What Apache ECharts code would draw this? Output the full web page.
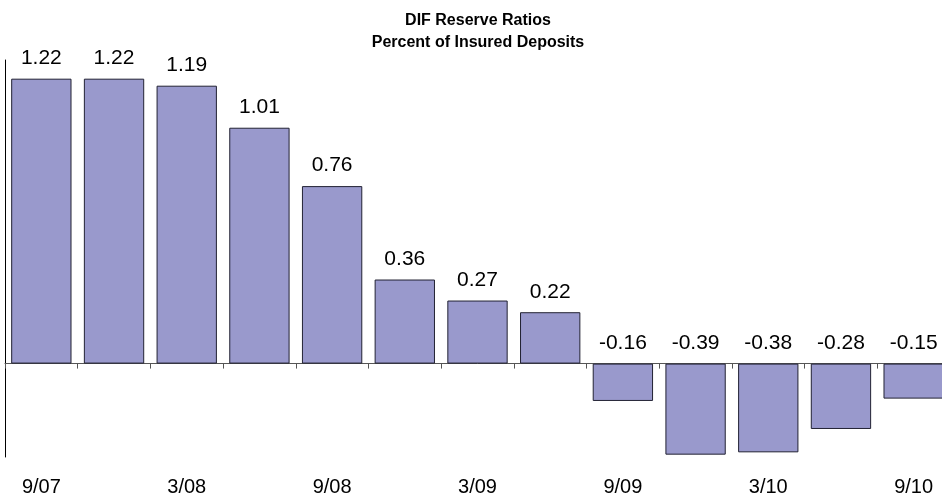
<!DOCTYPE html>
<html>
<head>
<meta charset="utf-8">
<script src="https://cdn.jsdelivr.net/npm/echarts@6/dist/echarts.min.js"></script>
<style>
html,body{margin:0;padding:0;background:#fff;overflow:hidden;}
#chart{width:950px;height:500px;}
</style>
</head>
<body>
<div id="chart"></div>
<script>
var categories = ['9/07','12/07','3/08','6/08','9/08','12/08','3/09','6/09','9/09','12/09','3/10','6/10','9/10'];
var reserveRatios = [1.22, 1.22, 1.19, 1.01, 0.76, 0.36, 0.27, 0.22, -0.16, -0.39, -0.38, -0.28, -0.15];
var titleLines = ['DIF Reserve Ratios', 'Percent of Insured Deposits'];

var chart = echarts.init(document.getElementById('chart'), null, {renderer: 'canvas'});
var font = 'Liberation Sans, Arial, sans-serif';
chart.setOption({
  animation: false,
  title: {
    text: titleLines.join('\n'),
    left: 473,
    textAlign: 'center',
    top: 5,
    textStyle: {fontFamily: font, fontSize: 16, fontWeight: 'bold', color: '#000', lineHeight: 22}
  },
  grid: {left: 5, top: 60, right: 0, height: 397, containLabel: false},
  xAxis: [
    {
      type: 'category', data: categories, position: 'bottom',
      axisLine: {show: false, onZero: false}, axisTick: {show: false},
      axisLabel: {interval: 1, margin: 20, fontFamily: font, fontSize: 20, color: '#000'}
    },
    {
      type: 'category', data: categories, position: 'bottom',
      axisLine: {show: true, onZero: true, lineStyle: {color: '#555', width: 1}},
      axisTick: {show: true, interval: 0, length: 5, inside: false, lineStyle: {color: '#555'}},
      axisLabel: {show: false}
    }
  ],
  yAxis: {
    type: 'value', min: -0.4, max: 1.3,
    axisLine: {show: true, lineStyle: {color: '#000', width: 1}},
    axisTick: {show: false}, axisLabel: {show: false}, splitLine: {show: false}
  },
  series: [{
    type: 'bar', data: reserveRatios, xAxisIndex: 0,
    barCategoryGap: '17%',
    itemStyle: {color: '#9999CC', borderColor: '#222233', borderWidth: 1},
    label: {show: true, position: 'top', distance: 10, fontFamily: font, fontSize: 21, color: '#000',
      formatter: function(p){ return p.value.toFixed(2); }}
  }]
});
</script>
</body>
</html>
